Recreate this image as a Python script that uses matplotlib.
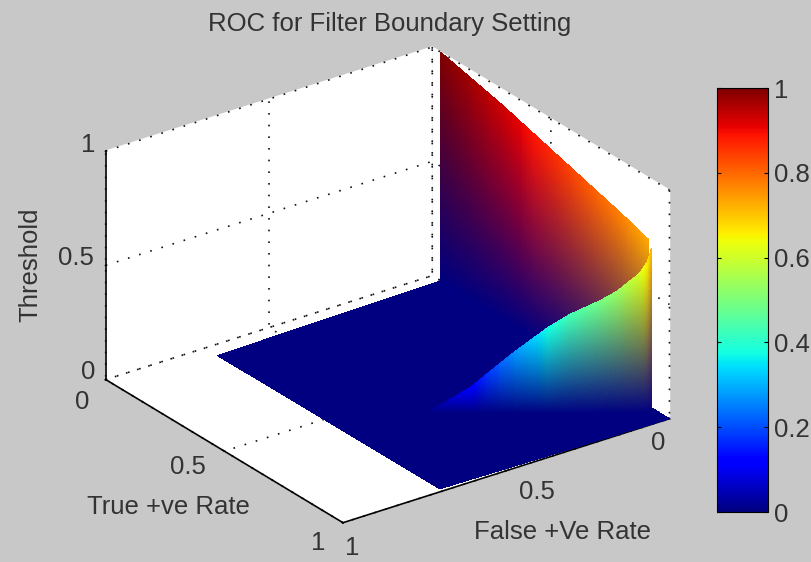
import numpy as np
import matplotlib
matplotlib.use("Agg")
import matplotlib.pyplot as plt
from matplotlib import colormaps
from matplotlib.cm import ScalarMappable
from matplotlib.colors import Normalize

plt.rcParams['font.family'] = ['Liberation Sans', 'DejaVu Sans']

# Values
floor_fp = [[0.696, 0.0], [0.693, 0.0]]
floor_tp = [[0.053, 0.036], [0.986, 1.0]]
wall_tp = [0.036, 0.30, 0.55, 0.80, 0.91]
wall_top = [1.0, 0.93, 0.85, 0.77, 0.73]
sheet_fp = [0.466, 0.380, 0.294, 0.226, 0.180, 0.120, 0.086, 0.040, 0.024, 0.016]
sheet_tp = [0.619, 0.682, 0.744, 0.794, 0.827, 0.871, 0.895, 0.929, 0.940, 0.946]
sheet_top = [0.0, 0.11, 0.26, 0.37, 0.43, 0.49, 0.53, 0.61, 0.66, 0.72]
ticks = [0, 0.5, 1]
tick_labels = ['0', '0.5', '1']
cbar_ticks = [0, 0.2, 0.4, 0.6, 0.8, 1]
cbar_labels = ['0', '0.2', '0.4', '0.6', '0.8', '1']

W, H = 812, 562
GREY = '#c8c8c8'
INK = '#333333'
FS = 18.5
jet = colormaps['jet']
fig = plt.figure(figsize=(W / 100, H / 100), dpi=100, facecolor=GREY)
ax = fig.add_axes([1 / W, -69 / H, 755 / W, 674 / H], projection='3d', facecolor=GREY)
ax.patch.set_alpha(0)
ax.set_proj_type('ortho')
ax.set_box_aspect((1, 1, 0.63), zoom=0.90)
ax.view_init(elev=26, azim=54)
ax.computed_zorder = False
ax.set_xlim(0, 1, view_margin=0)
ax.set_ylim(0, 1, view_margin=0)
ax.set_zlim(0, 1, view_margin=0)


def sheet(fp, tp, top, z):
    """Upright sheet under a top edge; colour blends in RGB from jet(0) to jet(top)."""
    n, m = 160, 60
    p = np.linspace(0, len(tp) - 1, n)
    idx = np.arange(len(tp))
    xs = np.interp(p, idx, fp)
    ys = np.interp(p, idx, tp)
    zs = np.interp(p, idx, top)
    s = np.linspace(0, 1, m)
    X = np.repeat(xs[None, :], m, axis=0)
    Y = np.repeat(ys[None, :], m, axis=0)
    Z = s[:, None] * zs[None, :]
    sc = 0.5 * (s[:-1] + s[1:])[:, None, None]
    tc = jet(0.5 * (zs[:-1] + zs[1:]))[None, :, :]
    col = (1 - sc) * jet(0.0) + sc * tc
    col[..., 3] = 1
    ax.plot_surface(X, Y, Z, facecolors=col, rcount=m, ccount=n, shade=False,
                    antialiased=False, linewidth=0, zorder=z)


ax.plot_surface(np.array(floor_fp), np.array(floor_tp), np.zeros((2, 2)),
                color=jet(0.0), shade=False, antialiased=False, linewidth=0, zorder=1)
sheet([0.0] * len(wall_tp), wall_tp, wall_top, 2)
sheet(sheet_fp, sheet_tp, sheet_top, 3)

for a in (ax.xaxis, ax.yaxis, ax.zaxis):
    a.set_ticks(ticks)
    a.set_ticklabels([])
    a.set_pane_color((1, 1, 1, 1))
    a.pane.set_edgecolor((1, 1, 1, 0))
    a.line.set_color('black')
    a.line.set_linewidth(1.2)
    a._axinfo['grid'].update(color='#111111', linewidth=1.2, linestyle=(0, (1, 6)))
    a._axinfo['tick'].update(inward_factor=0.02, outward_factor=0.02)


def label(x, y, s, **kw):
    fig.text(x / W, 1 - y / H, s, fontsize=FS, color=INK, ha='center', va='center', **kw)


# tick labels placed where the reference shows them
for (x, y), s in zip([(88, 372), (76, 258), (88, 145)], tick_labels):
    label(x, y, s)                      # Threshold
for (x, y), s in zip([(82, 402), (188, 467), (318, 543)], tick_labels):
    label(x, y, s)                      # True +ve Rate
for (x, y), s in zip([(658, 443), (537, 492), (352, 548)], tick_labels):
    label(x, y, s)                      # False +Ve Rate

label(390, 24, 'ROC for Filter Boundary Setting')
label(30, 265, 'Threshold', rotation=90)
label(168, 507, 'True +ve Rate')
label(563, 532, 'False +Ve Rate')

cax = fig.add_axes([717 / W, 1 - 512 / H, 51 / W, 424 / H])
cb = fig.colorbar(ScalarMappable(Normalize(0, 1), jet), cax=cax)
cb.set_ticks(cbar_ticks)
cb.set_ticklabels(cbar_labels)
cax.tick_params(direction='in', length=3, width=0.8, labelsize=FS, pad=4,
                labelcolor=INK, left=True, right=True)
cb.outline.set_linewidth(0.8)

fig.savefig('out.png', dpi=100, facecolor=GREY)
